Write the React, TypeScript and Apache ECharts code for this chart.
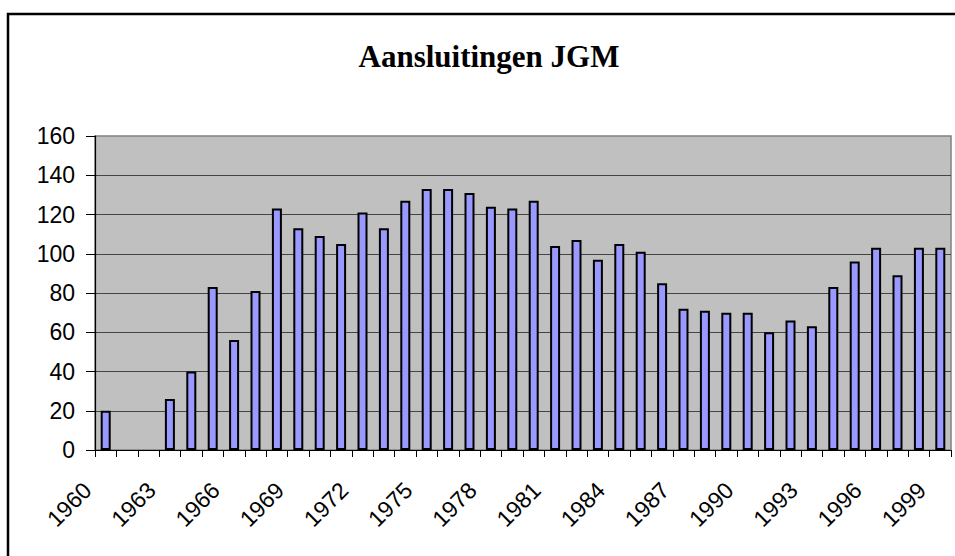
import React, { useEffect, useRef } from "react";
import * as echarts from "echarts";

const titleText = "Aansluitingen JGM";

const years = [
  "1960", "1961", "1962", "1963", "1964", "1965", "1966", "1967", "1968", "1969",
  "1970", "1971", "1972", "1973", "1974", "1975", "1976", "1977", "1978", "1979",
  "1980", "1981", "1982", "1983", "1984", "1985", "1986", "1987", "1988", "1989",
  "1990", "1991", "1992", "1993", "1994", "1995", "1996", "1997", "1998", "1999",
];

const aansluitingen = [
  20, null, null, 26, 40, 83, 56, 81, 123, 113,
  109, 105, 121, 113, 127, 133, 133, 131, 124, 123,
  127, 104, 107, 97, 105, 101, 85, 72, 71, 70,
  70, 60, 66, 63, 83, 96, 103, 89, 103, 103,
];

const yMin = 0;
const yMax = 160;
const yStep = 20;

export default function App() {
  const ref = useRef<HTMLDivElement>(null);

  useEffect(() => {
    if (!ref.current) return;
    const chart = echarts.init(ref.current, null, { renderer: "svg" });
    const sans = "'Liberation Sans', Arial, sans-serif";
    chart.setOption({
      animation: false,
      backgroundColor: "#ffffff",
      graphic: [
        {
          type: "rect",
          shape: { x: 8, y: 14, width: 1000, height: 600 },
          style: { fill: "none", stroke: "#000", lineWidth: 2.5 },
          silent: true,
          z: 0,
        },
        {
          type: "text",
          x: 489,
          y: 56,
          style: {
            text: titleText,
            align: "center",
            verticalAlign: "middle",
            font: "bold 31px 'Liberation Serif', 'Times New Roman', serif",
            fill: "#000",
          },
        },
      ],
      grid: {
        left: 95,
        right: 4,
        top: 136,
        bottom: 106,
        show: true,
        backgroundColor: "#C0C0C0",
        borderColor: "#808080",
        borderWidth: 1.5,
        containLabel: false,
      },
      xAxis: {
        type: "category",
        data: years,
        boundaryGap: true,
        axisLine: { show: true, lineStyle: { color: "#000", width: 1.2 } },
        axisTick: { show: true, interval: 0, length: 7, lineStyle: { color: "#000", width: 1 } },
        axisLabel: {
          interval: 2,
          rotate: 45,
          margin: 18,
          padding: [0, 26, 0, 0],
          color: "#000",
          fontSize: 23,
          fontFamily: sans,
        },
      },
      yAxis: {
        type: "value",
        min: yMin,
        max: yMax,
        interval: yStep,
        axisLine: { show: true, lineStyle: { color: "#000", width: 1.2 } },
        axisTick: { show: true, length: 9, lineStyle: { color: "#000", width: 1 } },
        axisLabel: {
          margin: 20,
          color: "#000",
          fontSize: 23,
          fontFamily: sans,
        },
        splitLine: {
          show: true,
          showMaxLine: false,
          lineStyle: { color: "#444", width: 1 },
        },
      },
      series: [
        {
          type: "bar",
          data: aansluitingen,
          barWidth: 10,
          itemStyle: {
            color: "#9999FF",
            borderColor: "#000",
            borderWidth: 2,
          },
        },
      ],
    });
    return () => chart.dispose();
  }, []);

  return (
    <div
      ref={ref}
      style={{ position: "absolute", left: 0, top: 0, width: 955, height: 556 }}
    />
  );
}
